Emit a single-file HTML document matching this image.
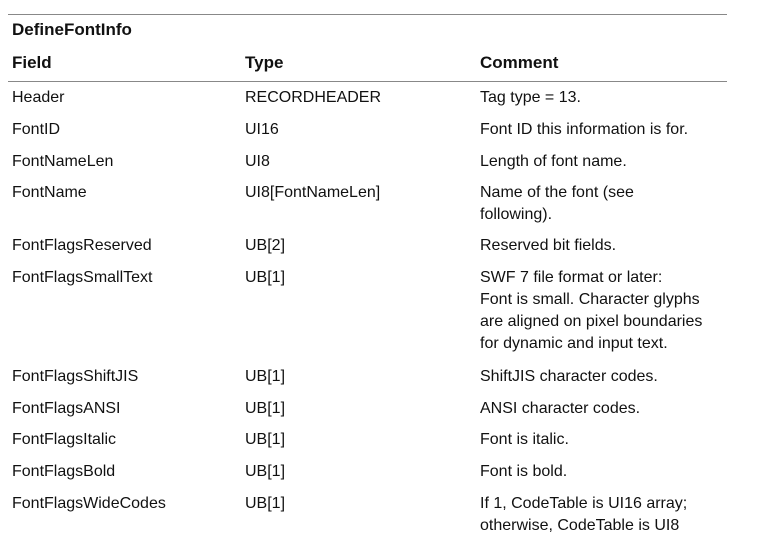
<!DOCTYPE html>
<html><head><style>
body{margin:0;width:767px;height:539px;background:#fff;font-family:"Liberation Sans",Arial,sans-serif;color:#111;position:relative;overflow:hidden}
.t{position:absolute;font-size:16px;line-height:22px;white-space:nowrap}
.b{font-weight:bold;font-size:17px}
.hr{position:absolute;left:8px;width:719px;height:1px;background:#888}
</style></head><body>
<div class="hr" style="top:14px"></div>
<div class="hr" style="top:81px"></div>
<div class="t b" style="left:12px;top:19px">DefineFontInfo</div>
<div class="t b" style="left:12px;top:52px">Field</div>
<div class="t b" style="left:245px;top:52px">Type</div>
<div class="t b" style="left:480px;top:52px">Comment</div>

<div class="t" style="left:12px;top:87px">Header</div>
<div class="t" style="left:245px;top:87px">RECORDHEADER</div>
<div class="t" style="left:480px;top:87px">Tag type = 13.</div>

<div class="t" style="left:12px;top:119px">FontID</div>
<div class="t" style="left:245px;top:119px">UI16</div>
<div class="t" style="left:480px;top:119px">Font ID this information is for.</div>

<div class="t" style="left:12px;top:151px">FontNameLen</div>
<div class="t" style="left:245px;top:151px">UI8</div>
<div class="t" style="left:480px;top:151px">Length of font name.</div>

<div class="t" style="left:12px;top:182px">FontName</div>
<div class="t" style="left:245px;top:182px">UI8[FontNameLen]</div>
<div class="t" style="left:480px;top:182px">Name of the font (see<br>following).</div>

<div class="t" style="left:12px;top:235px">FontFlagsReserved</div>
<div class="t" style="left:245px;top:235px">UB[2]</div>
<div class="t" style="left:480px;top:235px">Reserved bit fields.</div>

<div class="t" style="left:12px;top:267px">FontFlagsSmallText</div>
<div class="t" style="left:245px;top:267px">UB[1]</div>
<div class="t" style="left:480px;top:267px">SWF 7 file format or later:<br>Font is small. Character glyphs<br>are aligned on pixel boundaries<br>for dynamic and input text.</div>

<div class="t" style="left:12px;top:366px">FontFlagsShiftJIS</div>
<div class="t" style="left:245px;top:366px">UB[1]</div>
<div class="t" style="left:480px;top:366px">ShiftJIS character codes.</div>

<div class="t" style="left:12px;top:398px">FontFlagsANSI</div>
<div class="t" style="left:245px;top:398px">UB[1]</div>
<div class="t" style="left:480px;top:398px">ANSI character codes.</div>

<div class="t" style="left:12px;top:429px">FontFlagsItalic</div>
<div class="t" style="left:245px;top:429px">UB[1]</div>
<div class="t" style="left:480px;top:429px">Font is italic.</div>

<div class="t" style="left:12px;top:461px">FontFlagsBold</div>
<div class="t" style="left:245px;top:461px">UB[1]</div>
<div class="t" style="left:480px;top:461px">Font is bold.</div>

<div class="t" style="left:12px;top:493px">FontFlagsWideCodes</div>
<div class="t" style="left:245px;top:493px">UB[1]</div>
<div class="t" style="left:480px;top:493px">If 1, CodeTable is UI16 array;<br>otherwise, CodeTable is UI8</div>
</body></html>
